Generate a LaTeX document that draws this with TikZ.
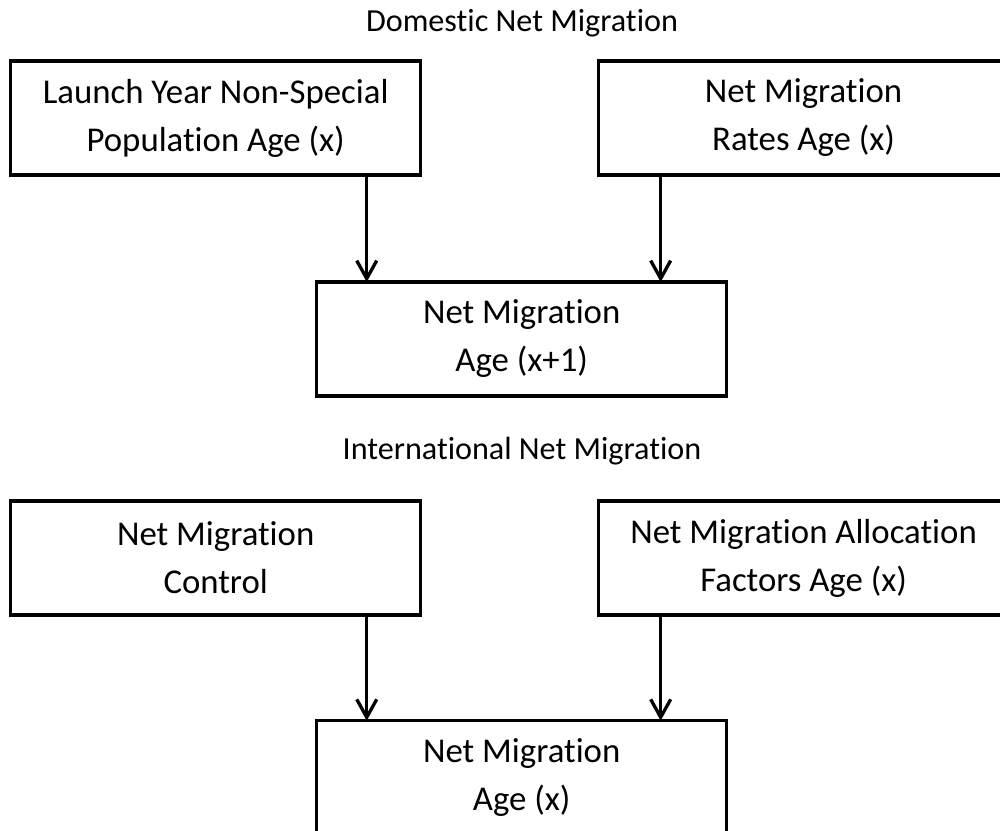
\documentclass[tikz,border=0pt]{standalone}
\usepackage{fontspec}
\setmainfont{Carlito}[Ligatures=NoCommon]
\usepackage{tikz}
\usetikzlibrary{arrows.meta,shapes,positioning}

\begin{document}
\begin{tikzpicture}[x=0.02cm, y=-0.02cm, font=\fontsize{19.8}{27.3}\selectfont]
\tikzstyle{mybox} = [rectangle, draw = black, line width=0.066cm, outer sep=0pt, align=center, minimum width=8.2cm, minimum height=2.28cm]
\tikzstyle{mytitle} = [anchor=base, font=\fontsize{18.3}{22}\selectfont]
\tikzstyle{myarrow} = [line width=0.066cm, -{Straight Barb[length=0.36cm, width=0.4cm]}]
\path[use as bounding box, clip] (0,0) rectangle (1000,831);
% domestic
\node (domtitle) [mytitle] at (522,31.5) {Domestic Net Migration};
\node (launchpop) [mybox] at (215.7,118) {Launch Year Non-Special\\Population Age (x)};
\node (migrates) [mybox, right = 3.56cm of launchpop] {Net Migration\\Rates Age (x)};
\node (netmigxone) [mybox] at (521.7,339) {Net Migration\\Age (x+1)};
\coordinate (domin1) at ([xshift=1cm]netmigxone.north west);
\coordinate (domin2) at ([xshift=-1.32cm]netmigxone.north east);
\draw [myarrow] (launchpop.south -| domin1) -- (domin1);
\draw [myarrow] (migrates.south -| domin2) -- (domin2);
% international
\node (inttitle) [mytitle] at (522,459.8) {International Net Migration};
\node (migcontrol) [mybox] at (215.7,558) {Net Migration\\Control};
\node (allocfac) [mybox, right = 3.56cm of migcontrol] {Net Migration Allocation\\Factors Age (x)};
\node (netmigx) [mybox] at (521.7,777.7) {Net Migration\\Age (x)};
\coordinate (intin1) at ([xshift=1cm]netmigx.north west);
\coordinate (intin2) at ([xshift=-1.32cm]netmigx.north east);
\draw [myarrow] (migcontrol.south -| intin1) -- (intin1);
\draw [myarrow] (allocfac.south -| intin2) -- (intin2);
\end{tikzpicture}
\end{document}
